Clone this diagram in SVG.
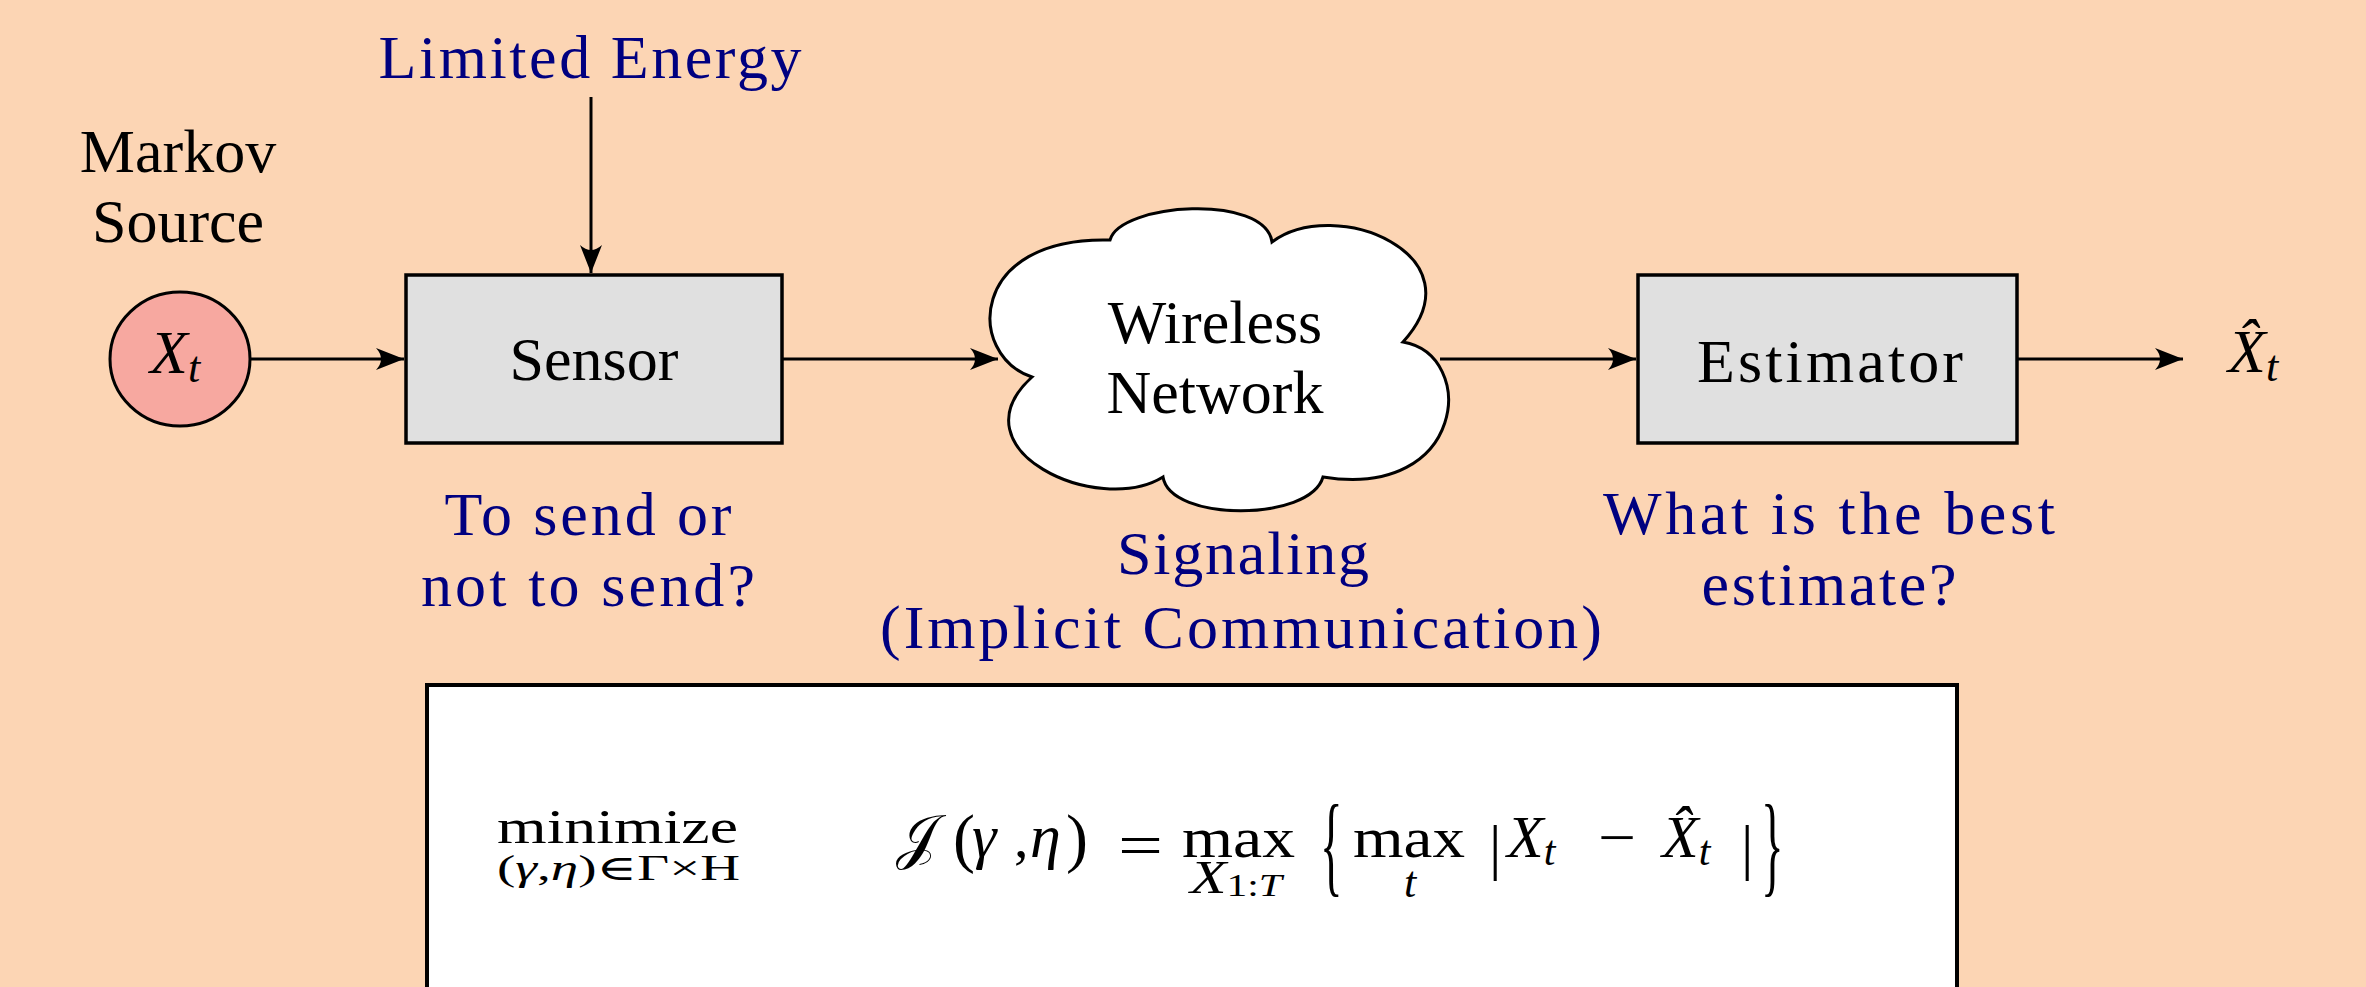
<svg xmlns="http://www.w3.org/2000/svg" width="2366" height="987" viewBox="0 0 2366 987">
  <style>
    .txt { font-family: "Liberation Serif", "DejaVu Serif", serif; fill: #000; }
    .lbl { font-size: 62px; text-anchor: middle; }
    .note { font-family: "Liberation Serif", "DejaVu Serif", serif; font-size: 62px; fill: #000080; text-anchor: middle; }
    .it { font-style: italic; }
    .box { fill: #E0E0E0; stroke: #000; stroke-width: 3.5; }
    .wire { stroke: #000; stroke-width: 3; fill: none; }
  </style>
  <defs>
    <marker id="arrow" markerUnits="userSpaceOnUse" viewBox="-30 -14 32 28" refX="0" refY="0" markerWidth="32" markerHeight="28" orient="auto">
      <path d="M0,0 L-28,-11 Q-18,0 -28,11 Z" fill="#000"/>
    </marker>
  </defs>

  <!-- background -->
  <rect x="0" y="0" width="2366" height="987" fill="#FCD5B4"/>

  <!-- connectors -->
  <g id="connectors">
    <line class="wire" x1="250" y1="359" x2="404" y2="359" marker-end="url(#arrow)"/>
    <line class="wire" x1="591" y1="97" x2="591" y2="273" marker-end="url(#arrow)"/>
    <line class="wire" x1="782" y1="359" x2="998" y2="359" marker-end="url(#arrow)"/>
    <line class="wire" x1="1440" y1="359" x2="1636" y2="359" marker-end="url(#arrow)"/>
    <line class="wire" x1="2017" y1="359" x2="2183" y2="359" marker-end="url(#arrow)"/>
  </g>

  <!-- source -->
  <g id="source">
    <text class="txt lbl" x="178" y="172">Markov</text>
    <text class="txt lbl" x="178" y="242">Source</text>
    <ellipse cx="180" cy="359" rx="70" ry="67" fill="#F7A8A0" stroke="#000" stroke-width="3"/>
    <text class="txt it" x="150" y="373" font-size="62">X<tspan font-size="44" dy="9">t</tspan></text>
  </g>

  <!-- energy constraint -->
  <g id="energy">
    <text class="note" x="590" y="78" textLength="423">Limited Energy</text>
  </g>

  <!-- sensor -->
  <g id="sensor">
    <rect class="box" x="406" y="275" width="376" height="168"/>
    <text class="txt lbl" x="594" y="380">Sensor</text>
    <text class="note" x="588" y="535" textLength="287">To send or</text>
    <text class="note" x="588" y="606" textLength="334">not to send?</text>
  </g>

  <!-- network cloud -->
  <g id="network">
    <path d="M1032,377 C966,355 968,236 1110,240 C1120,203 1265,193 1272,242 C1335,195 1482,255 1403,342 C1478,355 1466,500 1323,477 C1310,522 1170,522 1163,477 C1098,517 952,450 1032,377 Z" fill="#FFFFFF" stroke="#000" stroke-width="3" stroke-linejoin="miter"/>
    <text class="txt lbl" x="1215" y="343">Wireless</text>
    <text class="txt lbl" x="1215" y="413">Network</text>
    <text class="note" x="1243" y="574" textLength="252">Signaling</text>
    <text class="note" x="1241" y="648" textLength="722">(Implicit Communication)</text>
  </g>

  <!-- estimator -->
  <g id="estimator">
    <rect class="box" x="1638" y="275" width="379" height="168"/>
    <text class="txt lbl" x="1830" y="382" textLength="266">Estimator</text>
    <text class="note" x="1829" y="534" textLength="452">What is the best</text>
    <text class="note" x="1829" y="605" textLength="255">estimate?</text>
  </g>

  <!-- estimate output -->
  <g id="estimate">
    <text class="txt it" x="2228" y="372" font-size="62">X̂<tspan font-size="44" dy="9">t</tspan></text>
  </g>

  <!-- optimisation problem -->
  <g id="problem">
    <rect x="427" y="685" width="1530" height="320" fill="#FFFFFF" stroke="#000" stroke-width="4"/>
    <text class="txt" x="497" y="843" font-size="48" textLength="241" lengthAdjust="spacingAndGlyphs">minimize</text>
    <text class="txt" x="497" y="880" font-size="35" textLength="243" lengthAdjust="spacingAndGlyphs">(<tspan class="it">γ</tspan>,<tspan class="it">η</tspan>)∈Γ×H</text>

    <text class="txt" x="896" y="857" font-size="60" textLength="41" lengthAdjust="spacingAndGlyphs">𝒥</text>
    <text class="txt" x="953" y="860" font-size="66">(</text>
    <text class="txt it" x="972" y="857" font-size="62">γ</text>
    <text class="txt" x="1014" y="857" font-size="58">,</text>
    <text class="txt it" x="1030" y="857" font-size="62">η</text>
    <text class="txt" x="1066" y="860" font-size="66">)</text>
    <text class="txt" x="1118" y="866" font-size="62" textLength="45" lengthAdjust="spacingAndGlyphs">=</text>
    <text class="txt" x="1182" y="857" font-size="58" textLength="113" lengthAdjust="spacingAndGlyphs">max</text>
    <text class="txt" x="1190" y="893" font-size="46" textLength="92" lengthAdjust="spacingAndGlyphs"><tspan class="it">X</tspan><tspan font-size="32" dy="3">1:<tspan class="it">T</tspan></tspan></text>

    <text class="txt" transform="translate(1320,882) scale(0.42,1)" font-size="112">{</text>
    <text class="txt" x="1353" y="857" font-size="58" textLength="112" lengthAdjust="spacingAndGlyphs">max</text>
    <text class="txt it" x="1404" y="897" font-size="44">t</text>
    <text class="txt" x="1489" y="868" font-size="62">|</text>
    <text class="txt it" x="1507" y="857" font-size="60">X<tspan font-size="42" dy="8">t</tspan></text>
    <text class="txt" x="1598" y="857" font-size="58" textLength="38" lengthAdjust="spacingAndGlyphs">−</text>
    <text class="txt it" x="1662" y="857" font-size="60">X̂<tspan font-size="42" dy="8">t</tspan></text>
    <text class="txt" x="1741" y="868" font-size="62">|</text>
    <text class="txt" transform="translate(1761,882) scale(0.42,1)" font-size="112">}</text>
  </g>
</svg>
